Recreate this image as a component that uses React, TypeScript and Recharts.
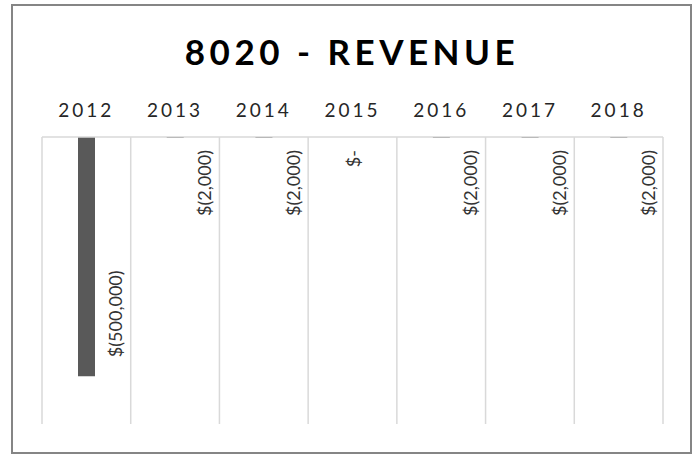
import { BarChart, Bar, XAxis, YAxis, CartesianGrid, LabelList } from 'recharts'

const YEARS = ['2012', '2013', '2014', '2015', '2016', '2017', '2018']
const REVENUE = [-500000, -2000, -2000, 0, -2000, -2000, -2000]
const Y_DOMAIN = [-600000, 0]

const data = YEARS.map((year, i) => ({ year, value: REVENUE[i] }))

const FONT = 'Lato, "Open Sans", sans-serif'

const formatMoney = (v: number) => {
  if (v === 0) return '$-'
  const s = Math.abs(v).toLocaleString('en-US')
  return v < 0 ? `$(${s})` : `$${s}`
}

const YearTick = ({ x, y, payload }: any) => (
  <text
    x={x}
    y={y - 20}
    textAnchor="middle"
    fontFamily={FONT}
    fontSize={19}
    letterSpacing={3}
    fill="#262626"
  >
    {payload.value}
  </text>
)

// rotated labels, placed next to the bar like the excel original
const ValueLabel = (props: any) => {
  const { x, y, width, height, value } = props
  const cx = x + width / 2
  const top = Math.min(y, y + height)
  const bottom = Math.max(y, y + height)
  const long = bottom - top > 100
  const lx = value === 0 ? cx : cx + 29
  const ly = long ? bottom - 19 : top + 13
  return (
    <text
      x={lx}
      y={ly}
      transform={`rotate(-90, ${lx}, ${ly})`}
      textAnchor={long ? 'start' : 'end'}
      dominantBaseline="central"
      fontFamily={FONT}
      fontSize={18}
      fill="#333"
    >
      {formatMoney(value)}
    </text>
  )
}

export default function App() {
  return (
    <div style={{ position: 'absolute', left: 0, top: 0, width: 696, height: 455, background: '#fff' }}>
      <div
        style={{
          position: 'absolute',
          left: 11,
          top: 4,
          width: 677,
          height: 446,
          border: '2px solid #858585',
        }}
      />
      <svg width={696} height={455} style={{ position: 'absolute', left: 0, top: 0 }}>
        <text
          x={352}
          y={65}
          textAnchor="middle"
          fontFamily={FONT}
          fontWeight={700}
          fontSize={35}
          letterSpacing={4.5}
          fill="#000"
        >
          8020 - REVENUE
        </text>
      </svg>
      <div style={{ position: 'absolute', left: 0, top: 0 }}>
        <BarChart
          width={696}
          height={455}
          data={data}
          margin={{ top: 107, left: 42, right: 33, bottom: 31 }}
        >
          <CartesianGrid
            horizontal={false}
            stroke="#d9d9d9"
            strokeWidth={1.5}
            verticalCoordinatesGenerator={({ offset }: any) =>
              YEARS.concat('').map((_, i) => offset.left + (i * offset.width) / YEARS.length)
            }
          />
          <XAxis
            dataKey="year"
            orientation="top"
            height={30}
            axisLine={{ stroke: '#d9d9d9', strokeWidth: 1.5 }}
            tickLine={false}
            tickSize={0}
            tickMargin={0}
            tick={<YearTick />}
            interval={0}
          />
          <YAxis hide domain={Y_DOMAIN} />
          <Bar
            dataKey="value"
            fill="#595959"
            barSize={17}
            minPointSize={(v: number) => (v === 0 ? 0.01 : 0)}
            isAnimationActive={false}
          >
            <LabelList dataKey="value" content={<ValueLabel />} />
          </Bar>
        </BarChart>
      </div>
    </div>
  )
}
